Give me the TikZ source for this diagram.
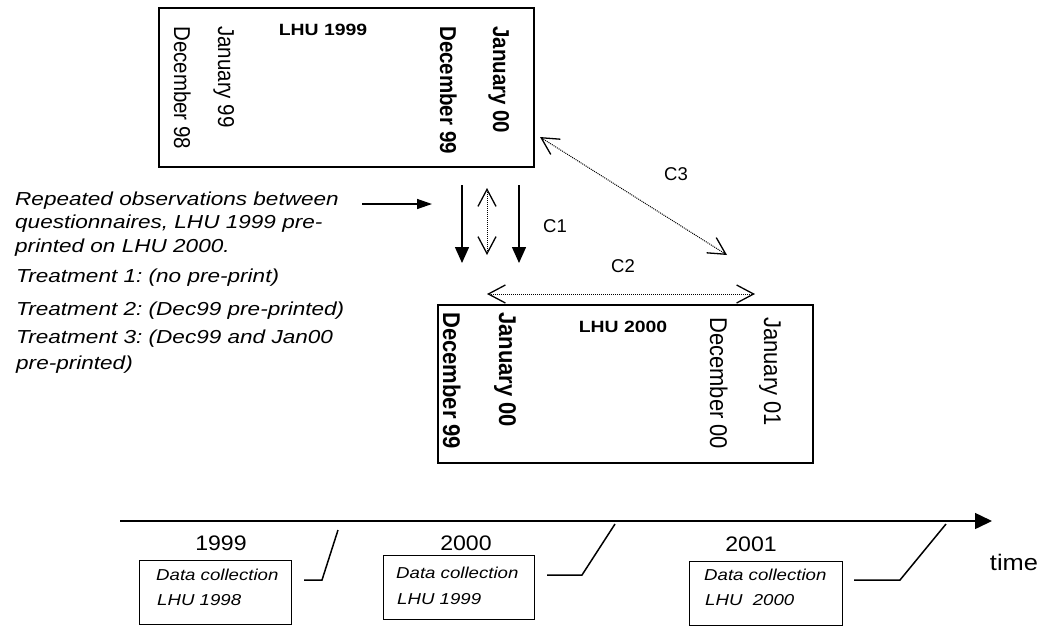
\documentclass[tikz,border=0pt]{standalone}
\usepackage{fontspec}
\setmainfont{Liberation Sans}
\usepackage{graphicx}
\usetikzlibrary{arrows.meta}
\frenchspacing
\newcommand{\hst}[2]{\scalebox{#1}[1]{#2}}
\newcommand{\vst}[2]{\scalebox{1}[#1]{#2}}
\begin{document}
\begin{tikzpicture}[x=1pt,y=-1pt,
  frame/.style={draw, line width=2pt, inner sep=0pt, anchor=north west},
  smallframe/.style={draw, line width=1.4pt, inner sep=0pt, anchor=north west, minimum width=152pt, minimum height=64pt},
  monthtop/.style={rotate=-90, anchor=base west, inner sep=0pt, font=\fontsize{20.5}{24}\selectfont},
  monthbot/.style={rotate=-90, anchor=base west, inner sep=0pt, font=\fontsize{22}{26}\selectfont},
  title/.style={anchor=base, inner sep=0pt, font=\fontsize{16.3}{19}\selectfont\bfseries},
  note/.style={anchor=base west, inner sep=0pt, font=\fontsize{18.8}{22}\selectfont\itshape},
  clabel/.style={anchor=base, inner sep=0pt, font=\fontsize{18.5}{22}\selectfont},
  year/.style={anchor=base, inner sep=0pt, font=\fontsize{21}{25}\selectfont},
  boxtext/.style={anchor=base west, inner sep=0pt, font=\fontsize{15.8}{19}\selectfont\itshape},
  sarrow/.style={line width=1.5pt, -{Triangle[length=16pt,width=14pt]}},
  darrow/.style={line width=1pt, densely dotted,
    {Straight Barb[length=17pt,width=18pt,line width=1.3pt]}-{Straight Barb[length=17pt,width=18pt,line width=1.3pt]}},
  tline/.style={line width=1.5pt}
]
\useasboundingbox (0,0) rectangle (1044,625);

% ---------- LHU 1999 questionnaire ----------
\node[frame, minimum width=375pt, minimum height=159pt] (lhu99) at (158,7) {};
\node[title] (t99) at (323,35) {\hst{1.19}{LHU 1999}};
\node[monthtop] (dec98) at (174,26) {\vst{1.12}{December 98}};
\node[monthtop] (jan99) at (218,26) {\vst{1.12}{January 99}};
\node[monthtop] (dec99a) at (440,26) {\vst{1.12}{\bfseries December 99}};
\node[monthtop] (jan00a) at (493,26) {\vst{1.12}{\bfseries January 00}};

% ---------- LHU 2000 questionnaire ----------
\node[frame, minimum width=375pt, minimum height=158pt] (lhu00) at (437,304) {};
\node[title] (t00) at (623,332) {\hst{1.19}{LHU 2000}};
\node[monthbot] (dec99b) at (443,312) {\vst{1.1}{\bfseries December 99}};
\node[monthbot] (jan00b) at (499,312) {\vst{1.1}{\bfseries January 00}};
\node[monthbot] (dec00) at (710,317) {\vst{1.1}{December 00}};
\node[monthbot] (jan01) at (764,317) {\vst{1.1}{January 01}};

% ---------- explanatory text ----------
\node[note] (n1) at (15,205) {\hst{1.2}{Repeated observations between}};
\node[note] (n2) at (15,228) {\hst{1.2}{questionnaires, LHU 1999 pre-}};
\node[note] (n3) at (15,252) {\hst{1.2}{printed on LHU 2000.}};
\node[note] (n4) at (16,282) {\hst{1.2}{Treatment 1: (no pre-print)}};
\node[note] (n5) at (16,315) {\hst{1.2}{Treatment 2: (Dec99 pre-printed)}};
\node[note] (n6) at (16,343) {\hst{1.2}{Treatment 3: (Dec99 and Jan00}};
\node[note] (n7) at (16,369) {\hst{1.2}{pre-printed)}};

% ---------- arrows between questionnaires ----------
\coordinate (na) at (362,204);
\coordinate (nb) at (432,204);
\draw[line width=1.4pt, -{Triangle[length=15pt,width=10pt]}] (na) -- (nb);

\coordinate (d1a) at (462,185);
\coordinate (d1b) at (462,263);
\coordinate (d2a) at (519,185);
\coordinate (d2b) at (519,263);
\draw[sarrow] (d1a) -- (d1b);
\draw[sarrow] (d2a) -- (d2b);

\coordinate (v1a) at (487,188);
\coordinate (v1b) at (487,255);
\draw[darrow] (v1a) -- (v1b);

\coordinate (h2a) at (487,294);
\coordinate (h2b) at (755,294);
\draw[darrow] (h2a) -- (h2b);

\coordinate (c3a) at (540,137);
\coordinate (c3b) at (727,255);
\draw[darrow] (c3a) -- (c3b);

\node[clabel] (lc1) at (555,232) {C1};
\node[clabel] (lc2) at (623,272) {C2};
\node[clabel] (lc3) at (676,180) {C3};

% ---------- time line ----------
\coordinate (ts) at (120,521);
\coordinate (te) at (992,521);
\draw[tline, -{Triangle[length=17pt,width=16pt]}] (ts) -- (te);
\node[anchor=base, inner sep=0pt, font=\fontsize{22.5}{26}\selectfont] (time) at (1014,570) {\hst{1.13}{time}};

\node[year] (y1999) at (221,550) {\hst{1.1}{1999}};
\node[year] (y2000) at (466,550) {\hst{1.1}{2000}};
\node[year] (y2001) at (751,551) {\hst{1.1}{2001}};

\node[smallframe] (dc1) at (139,560) {};
\node[smallframe, minimum width=151pt] (dc2) at (383,555) {};
\node[smallframe, minimum width=153pt] (dc3) at (689,561) {};

\node[boxtext] (dc1a) at (156,580) {\hst{1.18}{Data collection}};
\node[boxtext] (dc1b) at (157,605) {\hst{1.18}{LHU 1998}};
\node[boxtext] (dc2a) at (396,578) {\hst{1.18}{Data collection}};
\node[boxtext] (dc2b) at (397,604) {\hst{1.18}{LHU 1999}};
\node[boxtext] (dc3a) at (704,580) {\hst{1.18}{Data collection}};
\node[boxtext] (dc3b) at (705,605) {\hst{1.18}{LHU~~2000}};

\coordinate (s1a) at (304,580);
\coordinate (s1b) at (322,580);
\coordinate (s1c) at (338,530);
\coordinate (s2a) at (547,575);
\coordinate (s2b) at (582,575);
\coordinate (s2c) at (615,524);
\coordinate (s3a) at (854,580);
\coordinate (s3b) at (900,580);
\coordinate (s3c) at (946,524);
\draw[tline] (s1a) -- (s1b) -- (s1c);
\draw[tline] (s2a) -- (s2b) -- (s2c);
\draw[tline] (s3a) -- (s3b) -- (s3c);
\end{tikzpicture}
\end{document}
